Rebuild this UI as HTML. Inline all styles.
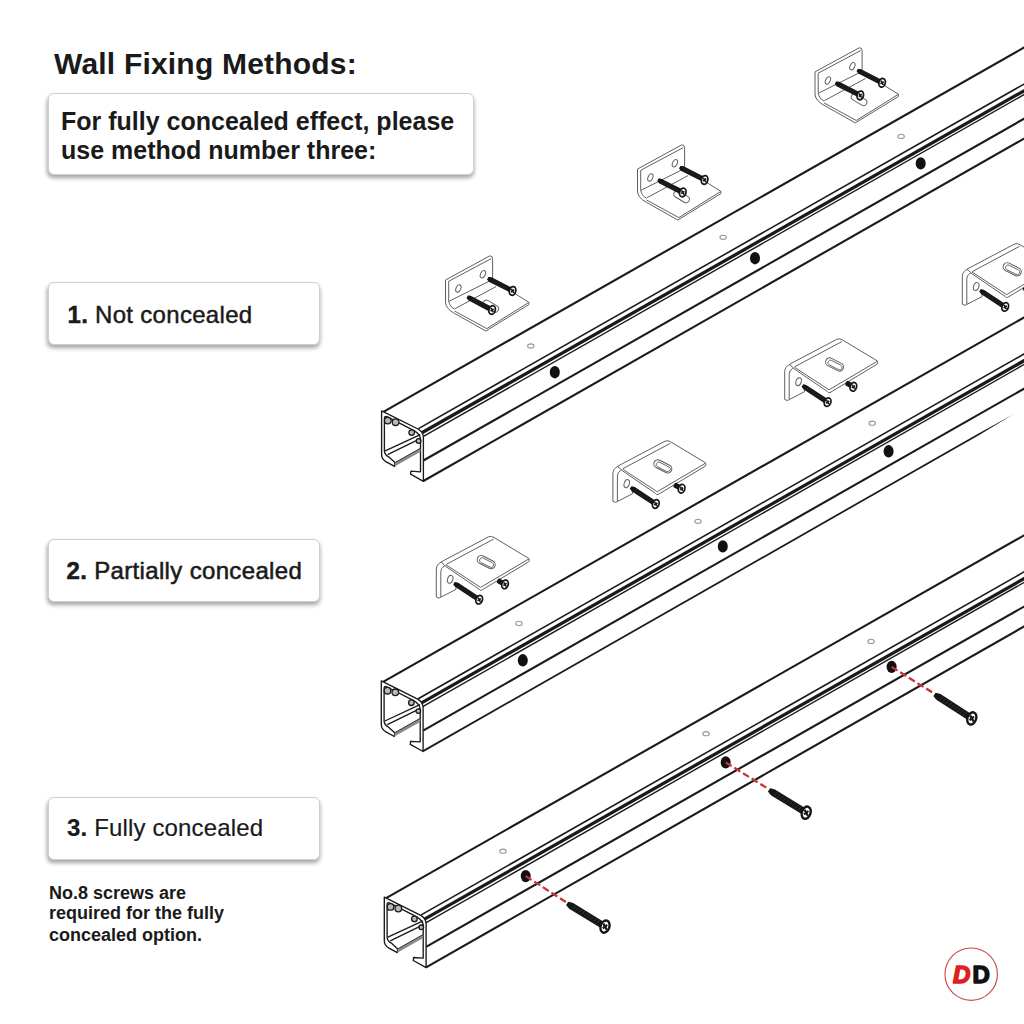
<!DOCTYPE html>
<html><head><meta charset="utf-8">
<style>
html,body{margin:0;padding:0;background:#fff;}
body{width:1024px;height:1024px;position:relative;overflow:hidden;font-family:"Liberation Sans",sans-serif;color:#1a1a1a;}
.box{position:absolute;left:48px;width:272px;height:63px;box-sizing:border-box;border:1px solid #cfcfcf;border-radius:6px;background:#fff;box-shadow:-0.5px 3px 4px rgba(0,0,0,0.36);}
.t{position:absolute;white-space:nowrap;transform-origin:0 0;line-height:1;}
svg{position:absolute;left:0;top:0;}
</style></head>
<body>
<svg width="1024" height="1024" viewBox="0 0 1024 1024" id="art">
<defs><g id="rail"><line x1="383.40" y1="411.80" x2="1040.00" y2="38.46" stroke="#1a1a1a" stroke-width="2.1" />
<line x1="418.50" y1="428.60" x2="1040.00" y2="74.97" stroke="#1a1a1a" stroke-width="1.6" />
<line x1="421.00" y1="433.30" x2="1040.00" y2="81.71" stroke="#1a1a1a" stroke-width="3.3" />
<line x1="423.00" y1="436.60" x2="1040.00" y2="85.53" stroke="#1a1a1a" stroke-width="1.4" />
<line x1="423.40" y1="460.50" x2="1040.00" y2="109.65" stroke="#1a1a1a" stroke-width="2.1" />
<path d="M394.6,466.4 L386.2,461.8 Q381.6,459.2 381.6,454.5 L381.6,410.8 L418.0,429.0 Q422.8,431.6 423.4,437.0 L423.4,481.4 L410.6,474.2 L410.9,471.2 L420.5,471.8 L420.5,439.0 Q420.2,434.2 414.0,430.6 L387.4,416.9 Q384.4,415.5 384.4,418.2 L384.4,451.0 Q384.6,454.8 388.6,456.8 L395.0,462.6 Z" fill="#fff" stroke="#1a1a1a" stroke-width="1.35" stroke-linejoin="round"/>
<path d="M395.0,462.6 L420.5,448.2 L420.5,451.8 L394.6,466.4 Z" fill="#8a8a8a" stroke="none"/>
<line x1="395" y1="462.6" x2="420.5" y2="448.2" stroke="#333" stroke-width="1"/>
<line x1="385.2" y1="450.9" x2="420.3" y2="434.6" stroke="#1a1a1a" stroke-width="1.3"/>
<line x1="387.6" y1="454.6" x2="420.3" y2="438.6" stroke="#1a1a1a" stroke-width="1.3"/>
<circle cx="387.8" cy="420.6" r="3.3" fill="#b8b8b8" stroke="#1a1a1a" stroke-width="1.3"/>
<circle cx="395.6" cy="422.2" r="3.3" fill="#b8b8b8" stroke="#1a1a1a" stroke-width="1.3"/>
<circle cx="411.7" cy="432.6" r="2.8" fill="#b8b8b8" stroke="#1a1a1a" stroke-width="1.3"/>
<circle cx="418.6" cy="441.0" r="2.3" fill="#b8b8b8" stroke="#1a1a1a" stroke-width="1.3"/></g></defs>
<use href="#rail" transform="translate(0,0)"/>
<use href="#rail" transform="translate(-0.3,270.1)"/>
<use href="#rail" transform="translate(2.7,486.3)"/>
<line x1="423.40" y1="481.00" x2="1040.00" y2="129.54" stroke="#1a1a1a" stroke-width="2.1" />
<path d="M423.1,750.05 L978,433.76 L1013,414.56 L978,435.71 L423.1,752.15 Z" fill="#1a1a1a"/>
<line x1="426.10" y1="967.30" x2="1040.00" y2="617.38" stroke="#1a1a1a" stroke-width="2.1" />
<ellipse cx="554.8" cy="372.2" rx="5.0" ry="6.2" fill="#111"/>
<ellipse cx="530.8" cy="346.0" rx="3.2" ry="2.1" fill="none" stroke="#999" stroke-width="1.1"/>
<ellipse cx="755.0" cy="258.2" rx="5.0" ry="6.2" fill="#111"/>
<ellipse cx="723.1" cy="237.3" rx="3.2" ry="2.1" fill="none" stroke="#999" stroke-width="1.1"/>
<ellipse cx="920.7" cy="163.4" rx="5.0" ry="6.2" fill="#111"/>
<ellipse cx="901.1" cy="136.4" rx="3.2" ry="2.1" fill="none" stroke="#999" stroke-width="1.1"/>
<ellipse cx="522.8" cy="660.3" rx="5.0" ry="6.2" fill="#111"/>
<ellipse cx="518.9" cy="623.4" rx="3.2" ry="2.1" fill="none" stroke="#999" stroke-width="1.1"/>
<ellipse cx="722.8" cy="546.4" rx="5.0" ry="6.2" fill="#111"/>
<ellipse cx="698.0" cy="521.3" rx="3.2" ry="2.1" fill="none" stroke="#999" stroke-width="1.1"/>
<ellipse cx="888.6" cy="451.3" rx="5.0" ry="6.2" fill="#111"/>
<ellipse cx="872.2" cy="423.2" rx="3.2" ry="2.1" fill="none" stroke="#999" stroke-width="1.1"/>
<ellipse cx="525.7" cy="876.1" rx="5.0" ry="6.2" fill="#111"/>
<ellipse cx="503.0" cy="851.2" rx="3.2" ry="2.1" fill="none" stroke="#999" stroke-width="1.1"/>
<ellipse cx="725.7" cy="762.4" rx="5.0" ry="6.2" fill="#111"/>
<ellipse cx="706.1" cy="733.7" rx="3.2" ry="2.1" fill="none" stroke="#999" stroke-width="1.1"/>
<ellipse cx="891.6" cy="666.9" rx="5.0" ry="6.2" fill="#111"/>
<ellipse cx="871.1" cy="641.4" rx="3.2" ry="2.1" fill="none" stroke="#999" stroke-width="1.1"/>
<defs><g id="brA"><g fill="#fff" stroke="#606060" stroke-width="1.0" stroke-linejoin="round">
<path d="M445.5,280.0 L489.7,255.9 Q492.6,255.6 492.6,258.6 L492.6,279.5 L528.9,302.4 L528.9,304.6 L485.8,331.0 L454.5,313.4 Q445.5,308.5 445.5,302.0 Z"/>
<path d="M454.5,311.0 L486.8,328.6 L528.9,302.4" fill="none"/>
<path d="M448.7,281.3 L491.2,258.6 M448.7,281.3 L448.7,301.0 Q449.5,306.5 454.5,309.2" fill="none"/>
<path d="M449.2,301.2 L493.6,279.0 M454.8,308.8 L496.0,286.6" fill="none"/>
</g>
<ellipse cx="458.4" cy="288.5" rx="2.3" ry="3.9" transform="rotate(25 458.4 288.5)" fill="none" stroke="#606060" stroke-width="1"/>
<ellipse cx="482.9" cy="274.3" rx="2.3" ry="3.9" transform="rotate(25 482.9 274.3)" fill="none" stroke="#606060" stroke-width="1"/>
<g><path d="M487.05,279.47 L488.00,280.69 L489.26,281.91 L509.26,292.12 L509.63,293.33 L512.82,287.07 L511.63,287.48 L491.62,277.28 L489.89,276.98 L488.35,276.93 Z" fill="#151515"/><line x1="491.39" y1="282.42" x2="494.44" y2="279.30" stroke="#777" stroke-width="0.36" opacity="0.6"/><line x1="493.70" y1="283.60" x2="496.75" y2="280.48" stroke="#777" stroke-width="0.36" opacity="0.6"/><line x1="496.02" y1="284.78" x2="499.07" y2="281.66" stroke="#777" stroke-width="0.36" opacity="0.6"/><line x1="498.34" y1="285.96" x2="501.38" y2="282.84" stroke="#777" stroke-width="0.36" opacity="0.6"/><line x1="500.65" y1="287.14" x2="503.70" y2="284.03" stroke="#777" stroke-width="0.36" opacity="0.6"/><line x1="502.97" y1="288.32" x2="506.02" y2="285.21" stroke="#777" stroke-width="0.36" opacity="0.6"/><line x1="505.28" y1="289.50" x2="508.33" y2="286.39" stroke="#777" stroke-width="0.36" opacity="0.6"/><ellipse cx="512.60" cy="290.90" rx="3.17" ry="4.42" transform="rotate(15.0 512.60 290.90)" fill="#fff" stroke="#151515" stroke-width="1.76"/><line x1="511.41" y1="288.78" x2="513.79" y2="293.02" stroke="#151515" stroke-width="1.58"/><line x1="514.19" y1="289.71" x2="511.01" y2="292.09" stroke="#151515" stroke-width="1.58"/></g></g><g id="brB"><g fill="#fff" stroke="#606060" stroke-width="1.0" stroke-linejoin="round">
<path d="M436.3,596.4 L436.3,568.6 Q436.6,563.6 441.1,561.6 L446.0,564.6 L444.0,565.6 Q440.8,567.5 440.8,571.0 L440.8,596.6 L439.0,597.6 Z"/>
<path d="M440.8,596.6 L456.0,588.8 L456.0,583.0"/>
<path d="M441.1,561.3 L488.4,536.3 Q491.5,535.0 494.2,537.0 L528.7,557.8 Q530.0,559.5 528.7,561.2 L481.6,589.6 Q479.8,590.2 479.0,588.5 L446.0,566.0 Z"/>
<path d="M446.0,564.2 L480.6,586.8 L528.9,558.3 M446.4,563.7 L493.6,538.5" fill="none"/>
</g>
<rect x="476.59999999999997" y="557.4" width="19.2" height="8.2" rx="4.1" transform="rotate(27 486.2 561.5)" fill="none" stroke="#606060" stroke-width="1.05"/>
<rect x="479.0" y="559.5" width="15.2" height="5.0" rx="2.5" transform="rotate(27 486.6 562.0)" fill="none" stroke="#606060" stroke-width="0.85"/>
<ellipse cx="450.2" cy="578.7" rx="2.6" ry="4.1" transform="rotate(18 450.2 578.7)" fill="#fff" stroke="#606060" stroke-width="1"/>
<g><path d="M453.21,583.69 L454.12,585.07 L455.34,586.50 L475.75,599.94 L475.98,601.18 L479.84,595.32 L478.61,595.60 L458.20,582.15 L456.40,581.59 L454.79,581.31 Z" fill="#151515"/><line x1="457.20" y1="587.10" x2="460.57" y2="584.34" stroke="#777" stroke-width="0.36" opacity="0.6"/><line x1="459.37" y1="588.53" x2="462.74" y2="585.77" stroke="#777" stroke-width="0.36" opacity="0.6"/><line x1="461.54" y1="589.96" x2="464.91" y2="587.20" stroke="#777" stroke-width="0.36" opacity="0.6"/><line x1="463.71" y1="591.39" x2="467.09" y2="588.63" stroke="#777" stroke-width="0.36" opacity="0.6"/><line x1="465.88" y1="592.82" x2="469.26" y2="590.06" stroke="#777" stroke-width="0.36" opacity="0.6"/><line x1="468.05" y1="594.25" x2="471.43" y2="591.49" stroke="#777" stroke-width="0.36" opacity="0.6"/><line x1="470.23" y1="595.68" x2="473.60" y2="592.92" stroke="#777" stroke-width="0.36" opacity="0.6"/><line x1="472.40" y1="597.11" x2="475.77" y2="594.35" stroke="#777" stroke-width="0.36" opacity="0.6"/><ellipse cx="479.20" cy="599.10" rx="3.17" ry="4.42" transform="rotate(21.4 479.20 599.10)" fill="#fff" stroke="#151515" stroke-width="1.76"/><line x1="478.01" y1="596.98" x2="480.39" y2="601.22" stroke="#151515" stroke-width="1.58"/><line x1="480.79" y1="597.91" x2="477.61" y2="600.29" stroke="#151515" stroke-width="1.58"/></g>
<g><path d="M496.80,580.85 L496.86,581.62 L497.05,582.33 L501.62,584.89 L501.94,586.11 L505.37,579.99 L504.16,580.35 L499.60,577.79 L498.89,578.00 L498.20,578.35 Z" fill="#151515"/><ellipse cx="505.00" cy="583.80" rx="3.17" ry="4.42" transform="rotate(17.2 505.00 583.80)" fill="#fff" stroke="#151515" stroke-width="1.76"/><line x1="503.81" y1="581.68" x2="506.19" y2="585.92" stroke="#151515" stroke-width="1.58"/><line x1="506.59" y1="582.61" x2="503.41" y2="584.99" stroke="#151515" stroke-width="1.58"/></g></g></defs>
<use href="#brA" transform="translate(0,0)"/>
<rect x="482.30" y="302.80" width="17" height="6.8" rx="3.4" transform="rotate(31 490.80 306.20)" fill="#fff" stroke="#606060" stroke-width="0.95"/>
<g><path d="M466.53,298.06 L467.47,299.30 L468.72,300.55 L488.74,311.16 L489.10,312.38 L492.38,306.18 L491.18,306.57 L471.16,295.95 L469.42,295.62 L467.87,295.54 Z" fill="#151515"/><line x1="470.82" y1="301.07" x2="473.92" y2="298.01" stroke="#777" stroke-width="0.36" opacity="0.6"/><line x1="473.12" y1="302.29" x2="476.21" y2="299.22" stroke="#777" stroke-width="0.36" opacity="0.6"/><line x1="475.41" y1="303.51" x2="478.51" y2="300.44" stroke="#777" stroke-width="0.36" opacity="0.6"/><line x1="477.71" y1="304.73" x2="480.81" y2="301.66" stroke="#777" stroke-width="0.36" opacity="0.6"/><line x1="480.01" y1="305.94" x2="483.11" y2="302.88" stroke="#777" stroke-width="0.36" opacity="0.6"/><line x1="482.31" y1="307.16" x2="485.40" y2="304.10" stroke="#777" stroke-width="0.36" opacity="0.6"/><line x1="484.60" y1="308.38" x2="487.70" y2="305.31" stroke="#777" stroke-width="0.36" opacity="0.6"/><ellipse cx="492.10" cy="310.00" rx="3.17" ry="4.42" transform="rotate(15.9 492.10 310.00)" fill="#fff" stroke="#151515" stroke-width="1.76"/><line x1="490.91" y1="307.88" x2="493.29" y2="312.12" stroke="#151515" stroke-width="1.58"/><line x1="493.69" y1="308.81" x2="490.51" y2="311.19" stroke="#151515" stroke-width="1.58"/></g>
<use href="#brA" transform="translate(192,-111)"/>
<rect x="673.10" y="193.30" width="17" height="6.8" rx="3.4" transform="rotate(31 681.60 196.70)" fill="#fff" stroke="#606060" stroke-width="0.95"/>
<g><path d="M657.25,181.07 L658.20,182.29 L659.46,183.51 L679.46,193.72 L679.83,194.93 L683.02,188.67 L681.83,189.08 L661.82,178.88 L660.09,178.58 L658.55,178.53 Z" fill="#151515"/><line x1="661.59" y1="184.02" x2="664.64" y2="180.90" stroke="#777" stroke-width="0.36" opacity="0.6"/><line x1="663.90" y1="185.20" x2="666.95" y2="182.08" stroke="#777" stroke-width="0.36" opacity="0.6"/><line x1="666.22" y1="186.38" x2="669.27" y2="183.26" stroke="#777" stroke-width="0.36" opacity="0.6"/><line x1="668.54" y1="187.56" x2="671.58" y2="184.44" stroke="#777" stroke-width="0.36" opacity="0.6"/><line x1="670.85" y1="188.74" x2="673.90" y2="185.63" stroke="#777" stroke-width="0.36" opacity="0.6"/><line x1="673.17" y1="189.92" x2="676.22" y2="186.81" stroke="#777" stroke-width="0.36" opacity="0.6"/><line x1="675.48" y1="191.10" x2="678.53" y2="187.99" stroke="#777" stroke-width="0.36" opacity="0.6"/><ellipse cx="682.80" cy="192.50" rx="3.17" ry="4.42" transform="rotate(15.0 682.80 192.50)" fill="#fff" stroke="#151515" stroke-width="1.76"/><line x1="681.61" y1="190.38" x2="683.99" y2="194.62" stroke="#151515" stroke-width="1.58"/><line x1="684.39" y1="191.31" x2="681.21" y2="193.69" stroke="#151515" stroke-width="1.58"/></g>
<use href="#brA" transform="translate(369.5,-208.1)"/>
<rect x="850.60" y="96.20" width="17" height="6.8" rx="3.4" transform="rotate(31 859.10 99.60)" fill="#fff" stroke="#606060" stroke-width="0.95"/>
<g><path d="M834.75,83.97 L835.70,85.19 L836.96,86.41 L856.96,96.62 L857.33,97.83 L860.52,91.57 L859.33,91.98 L839.32,81.78 L837.59,81.48 L836.05,81.43 Z" fill="#151515"/><line x1="839.09" y1="86.92" x2="842.14" y2="83.80" stroke="#777" stroke-width="0.36" opacity="0.6"/><line x1="841.40" y1="88.10" x2="844.45" y2="84.98" stroke="#777" stroke-width="0.36" opacity="0.6"/><line x1="843.72" y1="89.28" x2="846.77" y2="86.16" stroke="#777" stroke-width="0.36" opacity="0.6"/><line x1="846.04" y1="90.46" x2="849.08" y2="87.34" stroke="#777" stroke-width="0.36" opacity="0.6"/><line x1="848.35" y1="91.64" x2="851.40" y2="88.53" stroke="#777" stroke-width="0.36" opacity="0.6"/><line x1="850.67" y1="92.82" x2="853.72" y2="89.71" stroke="#777" stroke-width="0.36" opacity="0.6"/><line x1="852.98" y1="94.00" x2="856.03" y2="90.89" stroke="#777" stroke-width="0.36" opacity="0.6"/><ellipse cx="860.30" cy="95.40" rx="3.17" ry="4.42" transform="rotate(15.0 860.30 95.40)" fill="#fff" stroke="#151515" stroke-width="1.76"/><line x1="859.11" y1="93.28" x2="861.49" y2="97.52" stroke="#151515" stroke-width="1.58"/><line x1="861.89" y1="94.21" x2="858.71" y2="96.59" stroke="#151515" stroke-width="1.58"/></g>
<use href="#brB" transform="translate(0,0.6)"/>
<use href="#brB" transform="translate(176.6,-95.1)"/>
<use href="#brB" transform="translate(348.4,-197.0)"/>
<use href="#brB" transform="translate(526.0,-292.2)"/>
<line x1="525.7" y1="876.1" x2="567.2" y2="902.8" stroke="#c8343c" stroke-width="2.3" stroke-dasharray="7 3.2"/>
<g><path d="M566.19,905.04 L567.63,906.95 L569.53,908.93 L600.36,927.86 L600.74,929.53 L605.68,921.47 L604.02,921.89 L573.19,902.97 L570.55,902.17 L568.21,901.76 Z" fill="#151515"/><line x1="571.70" y1="909.45" x2="576.12" y2="905.59" stroke="#777" stroke-width="0.49" opacity="0.6"/><line x1="574.68" y1="911.28" x2="579.11" y2="907.42" stroke="#777" stroke-width="0.49" opacity="0.6"/><line x1="577.67" y1="913.11" x2="582.09" y2="909.25" stroke="#777" stroke-width="0.49" opacity="0.6"/><line x1="580.65" y1="914.94" x2="585.07" y2="911.08" stroke="#777" stroke-width="0.49" opacity="0.6"/><line x1="583.63" y1="916.77" x2="588.05" y2="912.91" stroke="#777" stroke-width="0.49" opacity="0.6"/><line x1="586.62" y1="918.60" x2="591.04" y2="914.74" stroke="#777" stroke-width="0.49" opacity="0.6"/><line x1="589.60" y1="920.43" x2="594.02" y2="916.58" stroke="#777" stroke-width="0.49" opacity="0.6"/><line x1="592.58" y1="922.26" x2="597.00" y2="918.41" stroke="#777" stroke-width="0.49" opacity="0.6"/><line x1="595.57" y1="924.09" x2="599.99" y2="920.24" stroke="#777" stroke-width="0.49" opacity="0.6"/><ellipse cx="605.00" cy="926.60" rx="4.32" ry="6.30" transform="rotate(19.5 605.00 926.60)" fill="#fff" stroke="#151515" stroke-width="2.40"/><line x1="603.31" y1="923.60" x2="606.69" y2="929.60" stroke="#151515" stroke-width="2.16"/><line x1="607.25" y1="924.91" x2="602.75" y2="928.29" stroke="#151515" stroke-width="2.16"/></g>
<line x1="725.7" y1="762.4" x2="769.0" y2="789.3" stroke="#c8343c" stroke-width="2.3" stroke-dasharray="7 3.2"/>
<g><path d="M767.99,791.54 L769.40,793.43 L771.26,795.39 L801.56,813.96 L801.94,815.63 L806.88,807.57 L805.22,807.99 L774.92,789.42 L772.32,788.65 L770.01,788.26 Z" fill="#151515"/><line x1="773.51" y1="795.95" x2="777.92" y2="792.09" stroke="#777" stroke-width="0.49" opacity="0.6"/><line x1="776.49" y1="797.77" x2="780.91" y2="793.91" stroke="#777" stroke-width="0.49" opacity="0.6"/><line x1="779.47" y1="799.60" x2="783.89" y2="795.74" stroke="#777" stroke-width="0.49" opacity="0.6"/><line x1="782.46" y1="801.43" x2="786.88" y2="797.57" stroke="#777" stroke-width="0.49" opacity="0.6"/><line x1="785.44" y1="803.26" x2="789.86" y2="799.40" stroke="#777" stroke-width="0.49" opacity="0.6"/><line x1="788.43" y1="805.09" x2="792.84" y2="801.23" stroke="#777" stroke-width="0.49" opacity="0.6"/><line x1="791.41" y1="806.92" x2="795.83" y2="803.06" stroke="#777" stroke-width="0.49" opacity="0.6"/><line x1="794.39" y1="808.75" x2="798.81" y2="804.89" stroke="#777" stroke-width="0.49" opacity="0.6"/><line x1="797.38" y1="810.58" x2="801.80" y2="806.72" stroke="#777" stroke-width="0.49" opacity="0.6"/><ellipse cx="806.20" cy="812.70" rx="4.32" ry="6.30" transform="rotate(19.5 806.20 812.70)" fill="#fff" stroke="#151515" stroke-width="2.40"/><line x1="804.51" y1="809.70" x2="807.89" y2="815.70" stroke="#151515" stroke-width="2.16"/><line x1="808.45" y1="811.01" x2="803.95" y2="814.39" stroke="#151515" stroke-width="2.16"/></g>
<line x1="891.6" y1="666.9" x2="934.5" y2="693.8" stroke="#c8343c" stroke-width="2.3" stroke-dasharray="7 3.2"/>
<g><path d="M933.46,696.02 L934.85,697.95 L936.71,699.98 L967.13,719.56 L967.48,721.24 L972.59,713.29 L970.92,713.67 L940.50,694.10 L937.88,693.25 L935.54,692.78 Z" fill="#151515"/><line x1="938.87" y1="700.54" x2="943.37" y2="696.78" stroke="#777" stroke-width="0.49" opacity="0.6"/><line x1="941.81" y1="702.44" x2="946.32" y2="698.67" stroke="#777" stroke-width="0.49" opacity="0.6"/><line x1="944.76" y1="704.33" x2="949.26" y2="700.57" stroke="#777" stroke-width="0.49" opacity="0.6"/><line x1="947.70" y1="706.22" x2="952.20" y2="702.46" stroke="#777" stroke-width="0.49" opacity="0.6"/><line x1="950.65" y1="708.12" x2="955.15" y2="704.36" stroke="#777" stroke-width="0.49" opacity="0.6"/><line x1="953.59" y1="710.01" x2="958.09" y2="706.25" stroke="#777" stroke-width="0.49" opacity="0.6"/><line x1="956.53" y1="711.91" x2="961.03" y2="708.14" stroke="#777" stroke-width="0.49" opacity="0.6"/><line x1="959.48" y1="713.80" x2="963.98" y2="710.04" stroke="#777" stroke-width="0.49" opacity="0.6"/><line x1="962.42" y1="715.69" x2="966.92" y2="711.93" stroke="#777" stroke-width="0.49" opacity="0.6"/><ellipse cx="971.80" cy="718.40" rx="4.32" ry="6.30" transform="rotate(20.8 971.80 718.40)" fill="#fff" stroke="#151515" stroke-width="2.40"/><line x1="970.11" y1="715.40" x2="973.49" y2="721.40" stroke="#151515" stroke-width="2.16"/><line x1="974.05" y1="716.71" x2="969.55" y2="720.09" stroke="#151515" stroke-width="2.16"/></g>
<circle cx="971.2" cy="974.2" r="26.2" fill="#fff" stroke="#c8474a" stroke-width="1.1"/>
<text x="953" y="982.6" font-family="Liberation Sans" font-weight="bold" font-style="italic" font-size="24" fill="#e02020" stroke="#e02020" stroke-width="1.5" stroke-linejoin="round">D</text>
<text x="972.6" y="982.6" font-family="Liberation Sans" font-weight="bold" font-size="24" fill="#111" stroke="#111" stroke-width="1.5" stroke-linejoin="round">D</text>
</svg>

<div class="t" id="title" style="left:54px;top:48.6px;font-size:30px;font-weight:bold;letter-spacing:0.2px;">Wall Fixing Methods:</div>
<div class="box" style="top:93px;width:426px;height:82px;"></div>
<div class="t" id="l1" style="left:61px;top:108.6px;font-size:25px;font-weight:bold;">For fully concealed effect, please</div>
<div class="t" id="l2" style="left:61px;top:138px;font-size:25px;font-weight:bold;">use method number three:</div>

<div class="box" style="top:282px;"></div>
<div class="t" id="b1" style="left:67.5px;top:303.2px;font-size:24px;letter-spacing:0.3px;-webkit-text-stroke:0.45px #1a1a1a;"><b>1.</b> Not concealed</div>
<div class="box" style="top:539px;"></div>
<div class="t" id="b2" style="left:66.5px;top:559.2px;font-size:24px;letter-spacing:0.34px;-webkit-text-stroke:0.55px #1a1a1a;"><b>2.</b> Partially concealed</div>
<div class="box" style="top:797px;"></div>
<div class="t" id="b3" style="left:67px;top:816.2px;font-size:24px;letter-spacing:0.15px;-webkit-text-stroke:0.2px #1a1a1a;"><b>3.</b> Fully concealed</div>

<div class="t" id="n1" style="left:49px;top:883.5px;font-size:18px;font-weight:bold;">No.8 screws are</div>
<div class="t" id="n2" style="left:49px;top:904.3px;font-size:18px;font-weight:bold;">required for the fully</div>
<div class="t" id="n3" style="left:49px;top:925.5px;font-size:18px;font-weight:bold;">concealed option.</div>
</body></html>
